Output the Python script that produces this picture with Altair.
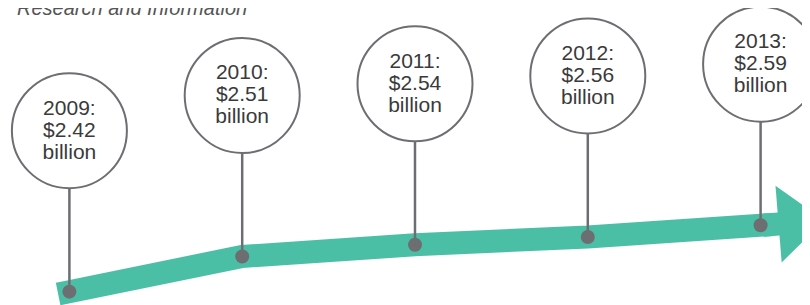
import altair as alt
import pandas as pd

years = [2009, 2010, 2011, 2012, 2013]
values = [2.42, 2.51, 2.54, 2.56, 2.59]
labels = [f"{y}:\n${v:.2f}\nbillion" for y, v in zip(years, values)]
title_text = "Research and Information"

TEAL = "#4bbfa5"
GRAY = "#6d6e71"
FONT = "Liberation Sans"

df = pd.DataFrame({"year": years, "value": values, "label": labels})

x = alt.X("year:Q", scale=alt.Scale(domain=[2008.6447, 2013.2396], nice=False, zero=False), axis=None)
y = alt.Y("value:Q", scale=alt.Scale(domain=[2.3859, 3.1455], nice=False, zero=False), axis=None)

base = alt.Chart(df)

band = base.mark_line(color=TEAL, strokeWidth=23, strokeCap="square", strokeJoin="miter").encode(x=x, y=y)

arrow_path = "M-1,-0.3L-0.6,-0.3L-0.6,-1L0.6,0L-0.6,1L-0.6,0.3L-1,0.3Z"
head = base.transform_filter(alt.datum.year == years[-1]).mark_point(
    shape=arrow_path, size=5929, filled=True, color=TEAL, opacity=1,
    angle=355.4, xOffset=41, yOffset=-3, strokeWidth=0
).encode(x=x, y=y)

stems = base.mark_rule(color=GRAY, strokeWidth=2.5, yOffset=-103.5, y2Offset=0).encode(
    x=x, y=y, y2="value:Q"
)

dots = base.mark_point(shape="circle", size=196, filled=True, color=GRAY, opacity=1).encode(x=x, y=y)

rings = base.mark_point(shape="circle", size=13225, filled=False, stroke=GRAY, fill="white",
                        fillOpacity=1, strokeWidth=2, opacity=1, yOffset=-161).encode(x=x, y=y)

texts = base.mark_text(font=FONT, fontSize=21, color="#3a3a3a", lineBreak="\n",
                       lineHeight=22, align="center", baseline="middle", yOffset=-183).encode(
    x=x, y=y, text="label:N"
)

title = alt.Chart(pd.DataFrame({"t": [title_text]})).mark_text(
    font=FONT, fontSize=20, fontStyle="italic", color="#555555",
    align="left", baseline="alphabetic"
).encode(x=alt.value(9), y=alt.value(7), text="t:N")

chart = alt.layer(band, head, stems, dots, rings, texts, title).properties(
    width=794, height=297, padding=0, autosize=alt.AutoSizeParams(type="none")
).configure_view(stroke=None)

chart.save("out.html", embed_options={"renderer": "svg", "actions": False})
